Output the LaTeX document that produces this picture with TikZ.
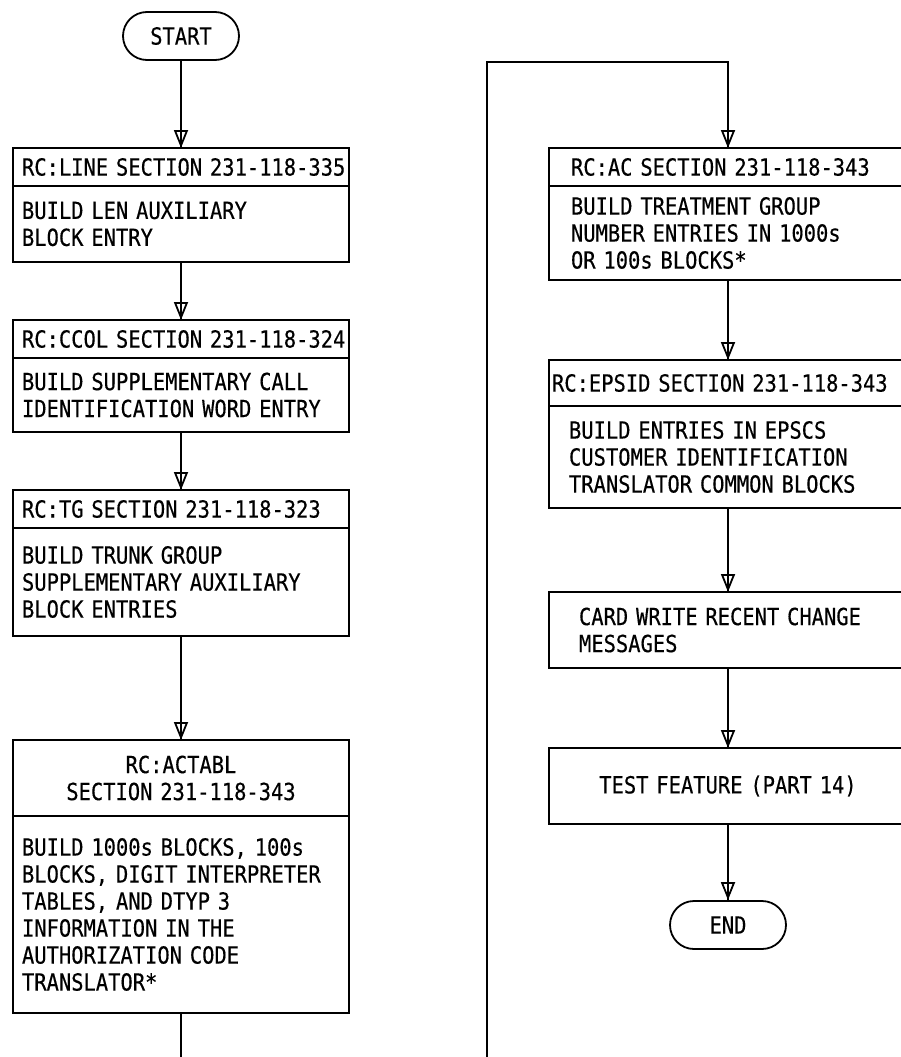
\documentclass[tikz,border=0pt]{standalone}
\usepackage{fontspec}
\usetikzlibrary{arrows.meta,shapes.misc}
\newfontfamily\flowfont[FakeStretch=0.87,FakeBold=0.4]{DejaVu Sans Mono}
\begin{document}
\begin{tikzpicture}[x=1pt,y=-1pt,
  every node/.style={font=\flowfont\fontsize{23.5}{27}\selectfont},
  cell/.style={draw, rectangle, line width=1.8pt, outer sep=0pt, inner ysep=0pt, align=left},
  lcell/.style={cell, inner xsep=9pt, text width=318pt},
  term/.style={draw, rounded rectangle, line width=1.8pt, minimum width=116pt,
               minimum height=48pt, inner sep=0pt},
  link/.style={line width=1.8pt},
  flow/.style={link, postaction={draw, -{Triangle[open, length=18pt, width=14pt]}}}
]
% page frame
\fill[white] (0,0) rectangle (901,1057);
\path[use as bounding box] (0,0) rectangle (901,1057);
\clip (0,0) rectangle (901,1057);

% ---------- left column ----------
\node[term] (start) at (181,36) {START};

\node[lcell, anchor=north, minimum height=38pt] (line_h) at (181,148)
  {\mbox{RC:LINE SECTION 231-118-335}};
\node[lcell, anchor=north, minimum height=76pt] (line_b) at (line_h.south)
  {BUILD LEN AUXILIARY\\BLOCK ENTRY};

\node[lcell, anchor=north, minimum height=38pt] (ccol_h) at (181,320)
  {\mbox{RC:CCOL SECTION 231-118-324}};
\node[lcell, anchor=north, minimum height=74pt] (ccol_b) at (ccol_h.south)
  {BUILD SUPPLEMENTARY CALL\\IDENTIFICATION WORD ENTRY};

\node[lcell, anchor=north, minimum height=38pt] (tg_h) at (181,490)
  {\mbox{RC:TG SECTION 231-118-323}};
\node[lcell, anchor=north, minimum height=108pt] (tg_b) at (tg_h.south)
  {BUILD TRUNK GROUP\\SUPPLEMENTARY AUXILIARY\\BLOCK ENTRIES};

\node[lcell, align=center, anchor=north, minimum height=76pt] (act_h) at (181,740)
  {RC:ACTABL\\\mbox{SECTION 231-118-343}};
\node[lcell, anchor=north, minimum height=197pt] (act_b) at (act_h.south)
  {BUILD 1000s BLOCKS, 100s\\BLOCKS, DIGIT INTERPRETER\\TABLES, AND DTYP 3\\INFORMATION IN THE\\AUTHORIZATION CODE\\TRANSLATOR*};

\coordinate (leftend) at (181,1057);

% ---------- right column ----------
\node[cell, anchor=north, inner xsep=22pt, text width=314pt, minimum height=38pt] (ac_h) at (728,148)
  {\mbox{RC:AC SECTION 231-118-343}};
\node[cell, anchor=north, inner xsep=22pt, text width=314pt, minimum height=94pt] (ac_b) at (ac_h.south)
  {BUILD TREATMENT GROUP\\NUMBER ENTRIES IN 1000s\\OR 100s BLOCKS*};

\node[cell, anchor=north, inner xsep=3pt, text width=352pt, minimum height=46pt] (eps_h) at (728,360)
  {\mbox{RC:EPSID SECTION 231-118-343}};
\node[cell, anchor=north, inner xsep=20pt, text width=318pt, minimum height=102pt] (eps_b) at (eps_h.south)
  {BUILD ENTRIES IN EPSCS\\CUSTOMER IDENTIFICATION\\TRANSLATOR COMMON BLOCKS};

\node[cell, anchor=north, inner xsep=30pt, text width=298pt, minimum height=76pt] (card) at (728,592)
  {CARD WRITE RECENT CHANGE\\MESSAGES};

\node[cell, align=center, anchor=north, inner xsep=16pt, text width=326pt, minimum height=76pt] (test) at (728,748)
  {TEST FEATURE (PART 14)};

\node[term] (end) at (728,925) {END};

\coordinate (loopbot) at (487,1057);
\coordinate (looptop) at (487,62);

% ---------- connectors ----------
\draw[flow] (start.south) -- (line_h.north);
\draw[flow] (line_b.south) -- (ccol_h.north);
\draw[flow] (ccol_b.south) -- (tg_h.north);
\draw[flow] (tg_b.south) -- (act_h.north);
\draw[link] (act_b.south) -- (leftend);

\draw[flow] (loopbot) -- (looptop) -| (ac_h.north);
\draw[flow] (ac_b.south) -- (eps_h.north);
\draw[flow] (eps_b.south) -- (card.north);
\draw[flow] (card.south) -- (test.north);
\draw[flow] (test.south) -- (end.north);
\end{tikzpicture}
\end{document}
